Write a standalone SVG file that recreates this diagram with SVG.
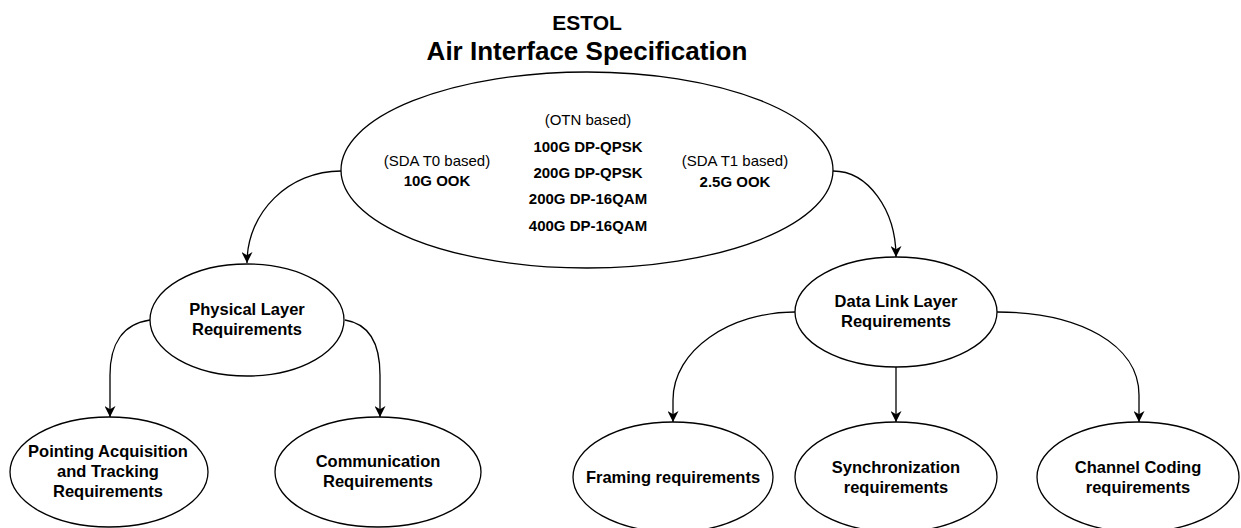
<svg xmlns="http://www.w3.org/2000/svg" width="1241" height="528" viewBox="0 0 1241 528">
<style>
.node{fill:#fff;stroke:#000;stroke-width:1.3}
.edge{fill:none;stroke:#000;stroke-width:1.3}
text{font-family:"Liberation Sans",Arial,sans-serif;fill:#000;text-anchor:middle}
.b{font-weight:bold;font-size:16.5px}
.m{font-size:15px}
.mb{font-size:15px;font-weight:bold}
</style>
<defs>
<marker id="arr" viewBox="0 0 10 10" refX="10" refY="5" markerWidth="11" markerHeight="11" markerUnits="userSpaceOnUse" orient="auto">
<path d="M0,0 L10,5 L0,10 L3,5 z" fill="#000"/>
</marker>
</defs>
<rect width="1241" height="528" fill="#fff"/>
<g id="title">
<text x="587" y="30" style="font-weight:bold;font-size:21px">ESTOL</text>
<text x="587" y="60" style="font-weight:bold;font-size:26px">Air Interface Specification</text>
</g>
<g id="air">
<ellipse class="node" cx="587" cy="170" rx="246" ry="98"/>
<text class="m" x="588" y="125">(OTN based)</text>
<text class="mb" x="588" y="152">100G DP-QPSK</text>
<text class="mb" x="588" y="178">200G DP-QPSK</text>
<text class="mb" x="588" y="204">200G DP-16QAM</text>
<text class="mb" x="588" y="231">400G DP-16QAM</text>
<text class="m" x="437" y="166">(SDA T0 based)</text>
<text class="mb" x="437" y="186">10G OOK</text>
<text class="m" x="735" y="166">(SDA T1 based)</text>
<text class="mb" x="735" y="187">2.5G OOK</text>
</g>
<g id="physical">
<ellipse class="node" cx="247" cy="320" rx="97" ry="56"/>
<text class="b" x="247" y="315">Physical Layer</text>
<text class="b" x="247" y="335">Requirements</text>
</g>
<g id="datalink">
<ellipse class="node" cx="896" cy="312" rx="101" ry="55"/>
<text class="b" x="896" y="307">Data Link Layer</text>
<text class="b" x="896" y="327">Requirements</text>
</g>
<g id="pointing">
<ellipse class="node" cx="109" cy="472" rx="99" ry="55"/>
<text class="b" x="108" y="457">Pointing Acquisition</text>
<text class="b" x="108" y="477">and Tracking</text>
<text class="b" x="108" y="497">Requirements</text>
</g>
<g id="communication">
<ellipse class="node" cx="378" cy="472" rx="103" ry="55"/>
<text class="b" x="378" y="467">Communication</text>
<text class="b" x="378" y="487">Requirements</text>
</g>
<g id="framing">
<ellipse class="node" cx="673" cy="477" rx="100" ry="55"/>
<text class="b" x="673" y="483">Framing requirements</text>
</g>
<g id="sync">
<ellipse class="node" cx="896" cy="477" rx="101" ry="55"/>
<text class="b" x="896" y="473">Synchronization</text>
<text class="b" x="896" y="493">requirements</text>
</g>
<g id="coding">
<ellipse class="node" cx="1138" cy="477" rx="101" ry="55"/>
<text class="b" x="1138" y="473">Channel Coding</text>
<text class="b" x="1138" y="493">requirements</text>
</g>
<g id="connectors">
<path class="edge" marker-end="url(#arr)" d="M341,171 C289,171 247,212 247,263"/>
<path class="edge" marker-end="url(#arr)" d="M833,171 C868,171 896,210 896,257"/>
<path class="edge" marker-end="url(#arr)" d="M150,320 C122,324 110,345 110,375 L110,417"/>
<path class="edge" marker-end="url(#arr)" d="M345,320 C370,324 380,345 380,375 L380,417"/>
<path class="edge" marker-end="url(#arr)" d="M795,312 C730,312 673,350 673,400 L673,422"/>
<path class="edge" marker-end="url(#arr)" d="M896,367 L896,422"/>
<path class="edge" marker-end="url(#arr)" d="M997,312 C1080,312 1139,345 1139,395 L1139,422"/>
</g>
</svg>
